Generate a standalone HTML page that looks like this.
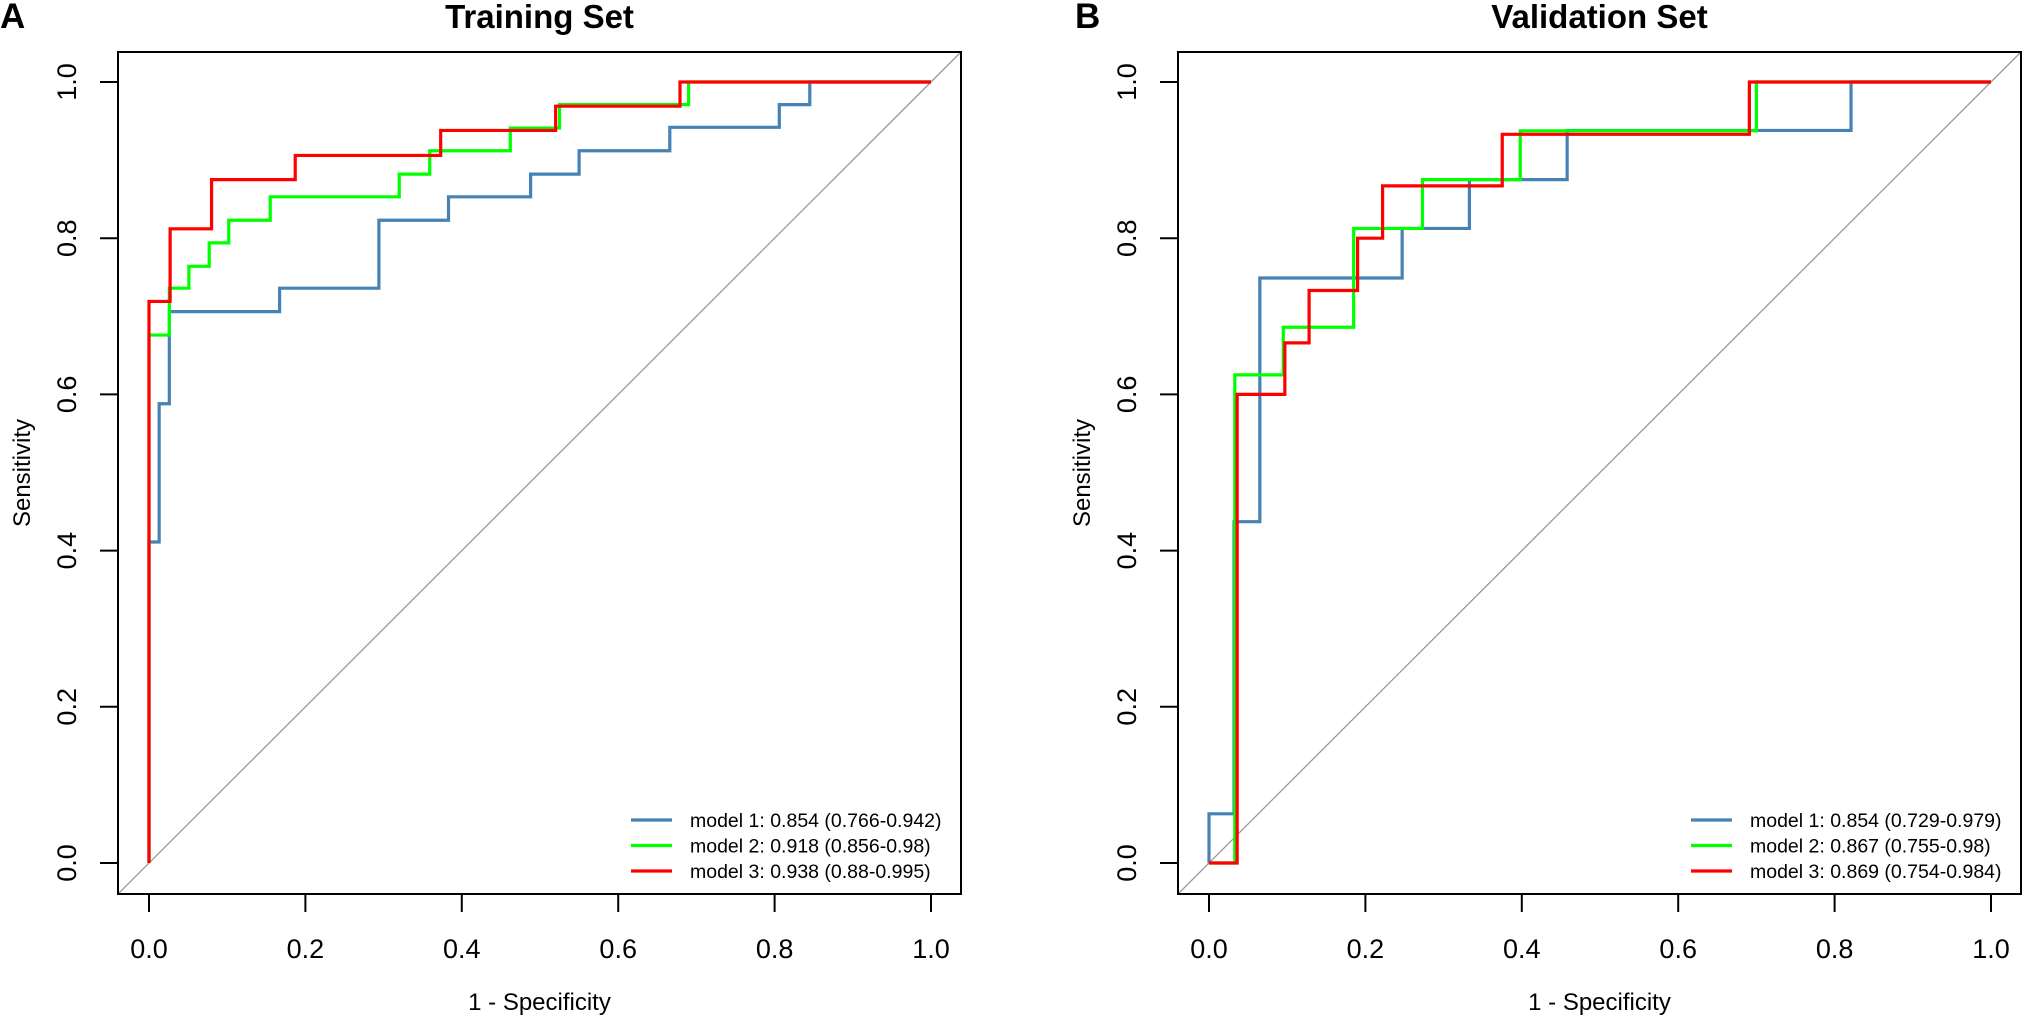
<!DOCTYPE html>
<html><head><meta charset="utf-8"><style>
html,body{margin:0;padding:0;background:#fff;}
svg{display:block;font-family:"Liberation Sans",Arial,sans-serif;}
</style></head><body>
<svg id="chart" width="2026" height="1019" viewBox="0 0 2026 1019" xmlns="http://www.w3.org/2000/svg"></svg>
<script>
const ticks = [0, 0.2, 0.4, 0.6, 0.8, 1.0];
const tickLabels = ["0.0", "0.2", "0.4", "0.6", "0.8", "1.0"];
const panelTitles = ["Training Set", "Validation Set"];
const panelLetters = ["A", "B"];
const modelNames = ["model 1", "model 2", "model 3"];
const modelColors = ["#4682B4", "#00FF00", "#FF0000"];
const trainLegend = ["model 1: 0.854 (0.766-0.942)", "model 2: 0.918 (0.856-0.98)", "model 3: 0.938 (0.88-0.995)"];
const validLegend = ["model 1: 0.854 (0.729-0.979)", "model 2: 0.867 (0.755-0.98)", "model 3: 0.869 (0.754-0.984)"];
// step points: [fpr, tpr] corners
const trainM1 = [[0,0],[0,0.411],[0.013,0.411],[0.013,0.588],[0.026,0.588],[0.026,0.706],[0.167,0.706],[0.167,0.736],[0.294,0.736],[0.294,0.823],[0.383,0.823],[0.383,0.853],[0.488,0.853],[0.488,0.882],[0.55,0.882],[0.55,0.912],[0.666,0.912],[0.666,0.942],[0.806,0.942],[0.806,0.971],[0.845,0.971],[0.845,1],[1,1]];
const trainM2 = [[0,0],[0,0.676],[0.026,0.676],[0.026,0.736],[0.051,0.736],[0.051,0.764],[0.077,0.764],[0.077,0.794],[0.102,0.794],[0.102,0.823],[0.155,0.823],[0.155,0.853],[0.32,0.853],[0.32,0.882],[0.359,0.882],[0.359,0.912],[0.462,0.912],[0.462,0.941],[0.525,0.941],[0.525,0.971],[0.69,0.971],[0.69,1],[1,1]];
const trainM3 = [[0,0],[0,0.719],[0.027,0.719],[0.027,0.812],[0.080,0.812],[0.080,0.875],[0.187,0.875],[0.187,0.906],[0.373,0.906],[0.373,0.938],[0.52,0.938],[0.52,0.969],[0.679,0.969],[0.679,1],[1,1]];
const validM1 = [[0,0],[0,0.063],[0.032,0.063],[0.032,0.437],[0.065,0.437],[0.065,0.749],[0.247,0.749],[0.247,0.8125],[0.333,0.8125],[0.333,0.875],[0.458,0.875],[0.458,0.938],[0.821,0.938],[0.821,1],[1,1]];
const validM2 = [[0,0],[0.033,0],[0.033,0.625],[0.095,0.625],[0.095,0.686],[0.185,0.686],[0.185,0.8125],[0.273,0.8125],[0.273,0.875],[0.398,0.875],[0.398,0.9375],[0.70,0.9375],[0.70,1],[1,1]];
const validM3 = [[0,0],[0.036,0],[0.036,0.6],[0.097,0.6],[0.097,0.666],[0.128,0.666],[0.128,0.733],[0.19,0.733],[0.19,0.8],[0.222,0.8],[0.222,0.867],[0.375,0.867],[0.375,0.933],[0.691,0.933],[0.691,1],[1,1]];

const NS = "http://www.w3.org/2000/svg";
const svg = document.getElementById("chart");
function mk(tag, attrs, parent, text) {
  const e = document.createElementNS(NS, tag);
  for (const k in attrs) e.setAttribute(k, attrs[k]);
  if (text !== undefined) e.textContent = text;
  parent.appendChild(e);
  return e;
}
function drawPanel(off, idx, series, legend) {
  const g = mk("g", {}, svg);
  
  
  const X0 = 149 + off, X1 = 931 + off, Y0 = 863, Y1 = 82;
  const sx = v => X0 + v * (X1 - X0);
  const sy = v => Y0 - v * (Y0 - Y1);
  const L = 118 + off, R = 961 + off, T = 52, B = 894;
  // diagonal
  const d = mk("line", {x1: L, y1: B, x2: R, y2: T, stroke: "#999", "stroke-width": 1.3}, g);
  
  
  // curves
  series.forEach((pts, i) => {
    const p = mk("polyline", {points: pts.map(q => sx(q[0]) + "," + sy(q[1])).join(" "), fill: "none", stroke: modelColors[i], "stroke-width": 3.2, "stroke-linejoin": "miter"}, g);
    
    
  });
  // box
  const bx = mk("rect", {x: L, y: T, width: R - L, height: B - T, fill: "none", stroke: "#000", "stroke-width": 2}, g);
  
  
  // axes
  const xa = mk("g", {}, g);
  
  
  mk("line", {x1: sx(0), y1: B, x2: sx(1), y2: B, stroke: "#000", "stroke-width": 2}, xa);
  const ya = mk("g", {}, g);
  
  
  ticks.forEach((t, i) => {
    mk("line", {x1: sx(t), y1: B, x2: sx(t), y2: B + 18, stroke: "#000", "stroke-width": 2}, xa);
    const tl = mk("text", {x: sx(t), y: 958, "font-size": 27, "text-anchor": "middle"}, xa, tickLabels[i]);
    
    
    mk("line", {x1: L - 18, y1: sy(t), x2: L, y2: sy(t), stroke: "#000", "stroke-width": 2}, ya);
    const yl = mk("text", {x: 0, y: 0, "font-size": 27, "text-anchor": "middle", transform: "translate(" + (76 + off) + "," + sy(t) + ") rotate(-90)"}, ya, tickLabels[i]);
    
    
  });
  const xt = mk("text", {x: (L + R) / 2, y: 1010, "font-size": 24, "text-anchor": "middle"}, g, "1 - Specificity");
  
  
  const yt = mk("text", {x: 0, y: 0, "font-size": 24, "text-anchor": "middle", transform: "translate(" + (30 + off) + "," + ((T + B) / 2) + ") rotate(-90)"}, g, "Sensitivity");
  
  
  const ti = mk("text", {x: (L + R) / 2, y: 28, "font-size": 33, "font-weight": "bold", "text-anchor": "middle"}, g, panelTitles[idx]);
  
  
  const le = mk("text", {x: 0 + off + (idx ? 15 : 0), y: 28, "font-size": 35, "font-weight": "bold"}, g, panelLetters[idx]);
  
  
  // legend
  const lg = mk("g", {}, g);
  
  
  legend.forEach((s, i) => {
    const y = 820 + i * 25.5;
    const ent = mk("g", {}, lg);
    
    
    mk("line", {x1: 631 + off, y1: y, x2: 672 + off, y2: y, stroke: modelColors[i], "stroke-width": 3.2}, ent);
    mk("text", {x: 690 + off, y: y + 7, "font-size": 19.5}, ent, s);
  });
}
drawPanel(0, 0, [trainM1, trainM2, trainM3], trainLegend);
drawPanel(1060, 1, [validM1, validM2, validM3], validLegend);
</script>
</body></html>
